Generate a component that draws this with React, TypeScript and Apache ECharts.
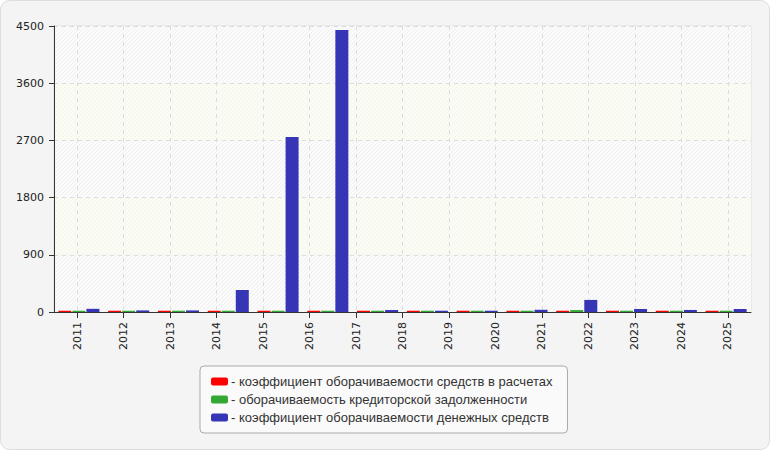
import React, { useEffect, useRef } from "react";
import * as echarts from "echarts";

const barCategories = ["2011", "2012", "2013", "2014", "2015", "2016", "2017", "2018", "2019", "2020", "2021", "2022", "2023", "2024"];
const yearLabels = ["2011", "2012", "2013", "2014", "2015", "2016", "2017", "2018", "2019", "2020", "2021", "2022", "2023", "2024", "2025"];
const receivablesTurnover = [20, 20, 20, 20, 20, 20, 20, 20, 20, 20, 20, 20, 20, 20];
const payablesTurnover = [20, 20, 20, 20, 20, 20, 20, 20, 20, 20, 30, 20, 20, 20];
const cashTurnover = [50, 25, 25, 346, 2753, 4437, 31, 20, 20, 35, 190, 47, 32, 47];
const seriesNames = [
  "коэффициент оборачиваемости средств в расчетах",
  "оборачиваемость кредиторской задолженности",
  "коэффициент оборачиваемости денежных средств",
];
const yTicks = { min: 0, max: 4500, interval: 900 };

const FONT = "'DejaVu Sans', Verdana, sans-serif";
const LEGEND_FONT = "'Liberation Sans', Arial, sans-serif";

function makePattern(base: string, line: string): any {
  const c = document.createElement("canvas");
  c.width = 4;
  c.height = 4;
  const ctx = c.getContext("2d")!;
  ctx.fillStyle = base;
  ctx.fillRect(0, 0, 4, 4);
  ctx.strokeStyle = line;
  ctx.lineWidth = 1;
  ctx.beginPath();
  ctx.moveTo(0, 4);
  ctx.lineTo(4, 0);
  ctx.moveTo(-1, 1);
  ctx.lineTo(1, -1);
  ctx.moveTo(3, 5);
  ctx.lineTo(5, 3);
  ctx.stroke();
  return { image: c.toDataURL(), repeat: "repeat" };
}

export default function App() {
  const ref = useRef<HTMLDivElement>(null);
  useEffect(() => {
    document.body.style.margin = "0";
    const chart = echarts.init(ref.current!, null, { renderer: "svg" });
    const labelAxisData: string[] = [];
    for (let i = 0; i <= yearLabels.length * 2; i++) {
      labelAxisData.push(i % 2 === 1 ? yearLabels[(i - 1) / 2] : "");
    }
    const odd = (index: number) => index % 2 === 1;
    const hatch = makePattern("#fbfbfb", "#efefef");
    const hatchYellow = makePattern("#fbfcf4", "#f4f5ec");
    chart.setOption({
      animation: false,
      backgroundColor: "#ffffff",
      textStyle: { fontFamily: FONT },
      graphic: [
        {
          type: "rect",
          z: -10,
          silent: true,
          shape: { x: 0.5, y: 0.5, width: 769, height: 449, r: 9 },
          style: { fill: "#f4f4f4", stroke: "#dddddd", lineWidth: 1 },
        },
      ],
      grid: {
        left: 54,
        right: 19,
        top: 26,
        bottom: 138,
        show: true,
        borderColor: "#dddddd",
        borderWidth: 1,
        backgroundColor: "transparent",
      },
      legend: {
        orient: "vertical",
        left: 200,
        top: 366,
        padding: [9, 15, 9, 11],
        itemGap: 5,
        itemWidth: 17,
        itemHeight: 8,
        icon: "roundRect",
        backgroundColor: "#fafafa",
        borderColor: "#aaaaaa",
        borderWidth: 1,
        borderRadius: 4,
        selectedMode: false,
        formatter: (name: string) => "- " + name,
        textStyle: { fontFamily: LEGEND_FONT, fontSize: 13, color: "#333333", padding: [0, 0, 0, -2] },
      },
      xAxis: [
        {
          type: "category",
          data: barCategories,
          boundaryGap: true,
          show: false,
        },
        {
          type: "category",
          data: labelAxisData,
          boundaryGap: false,
          position: "bottom",
          axisLine: { show: true, lineStyle: { color: "#333333", width: 1 } },
          axisTick: { show: true, interval: odd, length: 6, lineStyle: { color: "#333333" } },
          axisLabel: {
            interval: odd,
            rotate: 90,
            margin: 10,
            fontSize: 11,
            color: "#222222",
            fontFamily: FONT,
          },
          splitLine: { show: true, interval: odd, lineStyle: { color: "#dddddd", type: [4, 4] } },
        },
      ],
      yAxis: {
        type: "value",
        min: yTicks.min,
        max: yTicks.max,
        interval: yTicks.interval,
        axisLine: { show: true, lineStyle: { color: "#333333", width: 1 } },
        axisTick: { show: true, length: 5, lineStyle: { color: "#333333" } },
        axisLabel: {
          margin: 10,
          fontSize: 11,
          color: "#222222",
          fontFamily: FONT,
          formatter: (v: number) => String(v),
        },
        splitLine: { show: true, lineStyle: { color: "#dddddd", type: [4, 4] } },
        splitArea: { show: true, areaStyle: { color: [hatch, hatchYellow] } },
      },
      series: [
        {
          name: seriesNames[0],
          type: "bar",
          xAxisIndex: 0,
          data: receivablesTurnover,
          barWidth: 13,
          barGap: "8%",
          itemStyle: { color: "#ff0000" },
        },
        {
          name: seriesNames[1],
          type: "bar",
          xAxisIndex: 0,
          data: payablesTurnover,
          barWidth: 13,
          barGap: "8%",
          itemStyle: { color: "#33a833" },
        },
        {
          name: seriesNames[2],
          type: "bar",
          xAxisIndex: 0,
          data: cashTurnover,
          barWidth: 13,
          barGap: "8%",
          itemStyle: { color: "#3535b5" },
        },
      ],
    });
    return () => chart.dispose();
  }, []);
  return <div ref={ref} style={{ width: 770, height: 450 }} />;
}
